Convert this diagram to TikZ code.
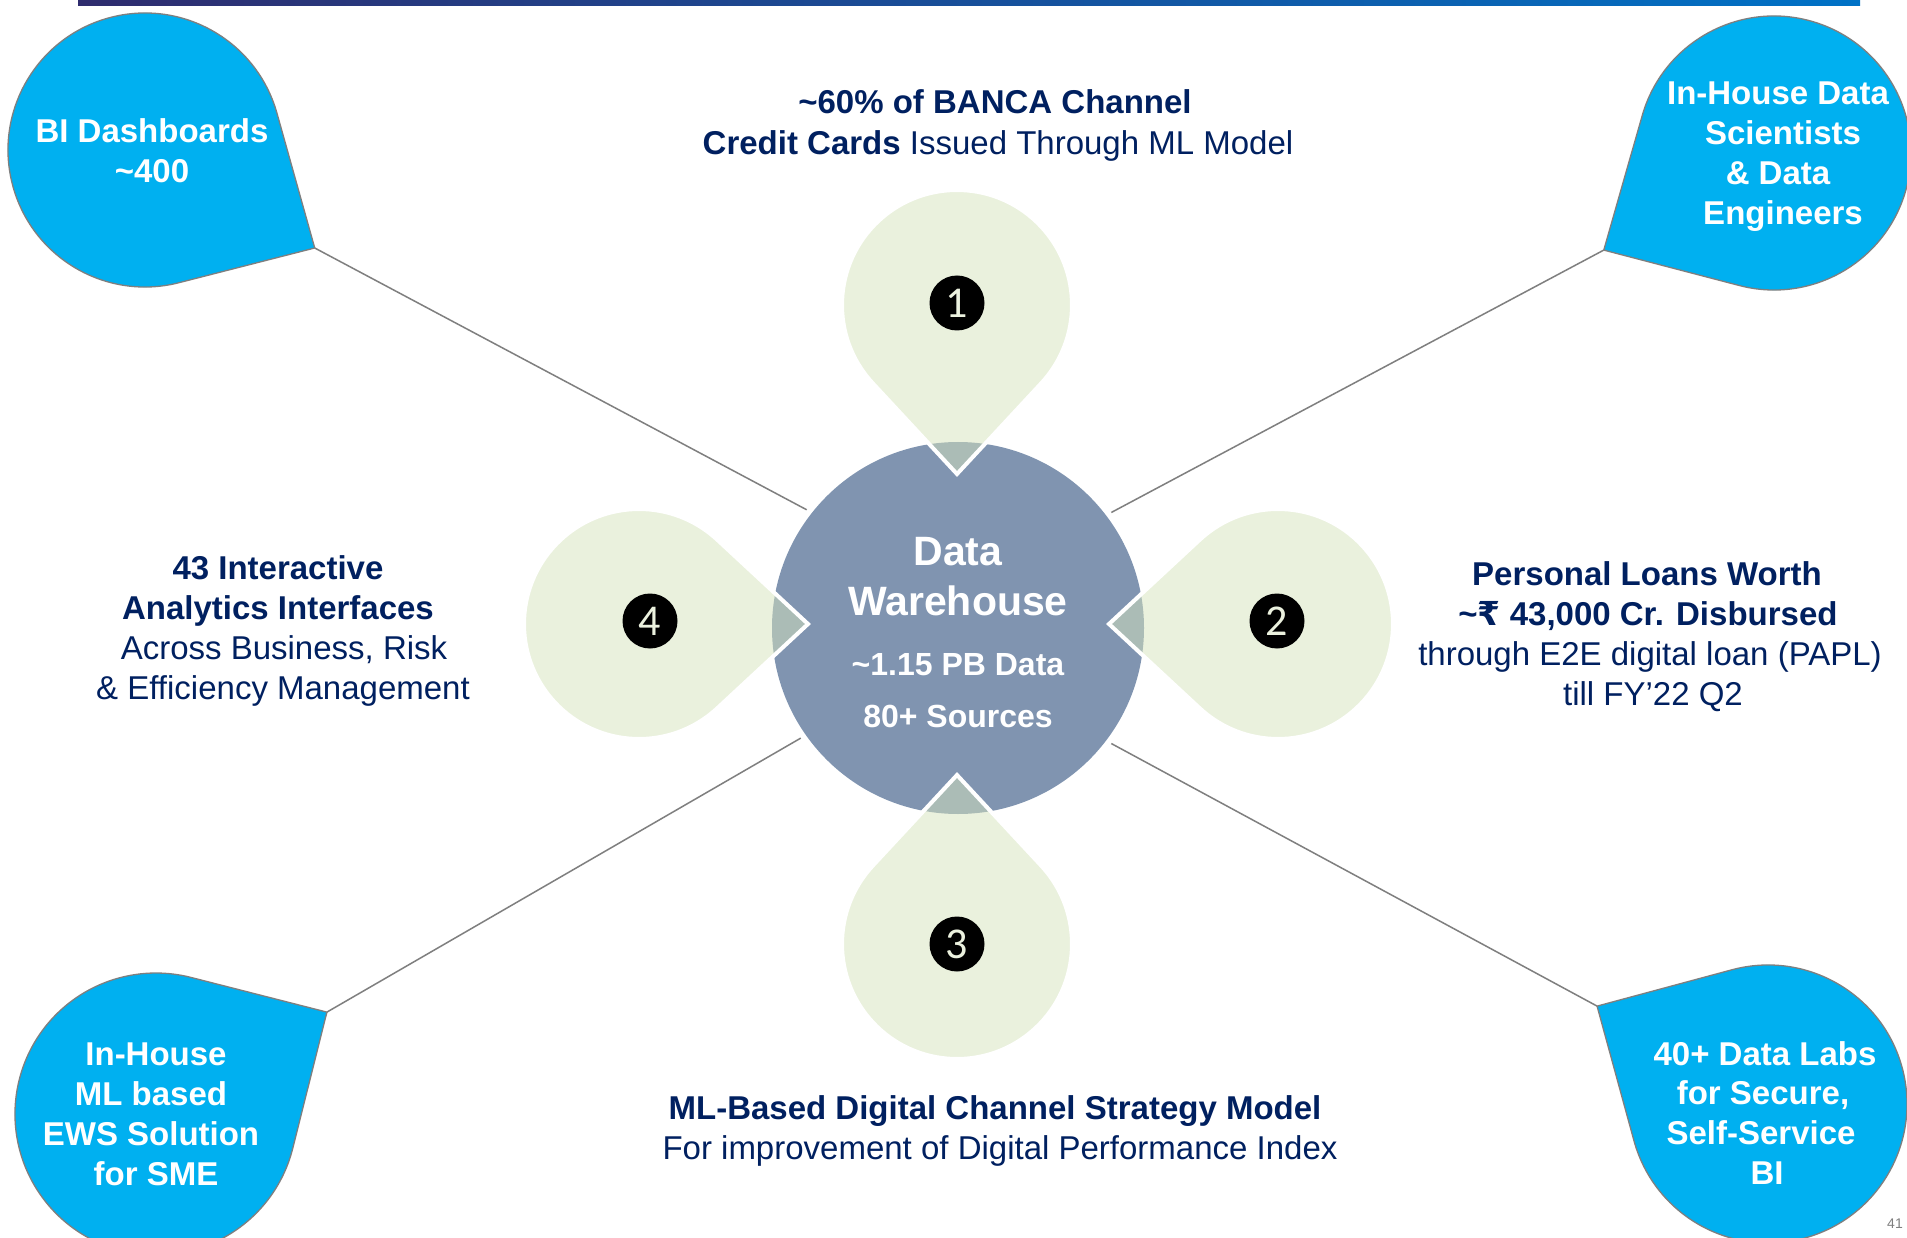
\documentclass[tikz,border=0pt]{standalone}
\usepackage{fontspec}
\setmainfont{Liberation Sans}
\newfontfamily\badgefont{Carlito}
\newfontfamily\rupfont{DejaVu Sans}
\usetikzlibrary{calc}
\definecolor{navy}{HTML}{002060}
\definecolor{dwfill}{HTML}{8094B0}
\definecolor{olivelt}{HTML}{D7E4BD}
\definecolor{cream}{HTML}{EBF1DE}
\definecolor{skyblue}{HTML}{00B0F0}
\definecolor{edgegray}{HTML}{7F7F7F}
\definecolor{barleft}{HTML}{2F2C6E}
\definecolor{barright}{HTML}{0072C6}
% teardrop: #1 name, #2 x, #3 y, #4 radius, #5 axis angle, #6 tip distance, #7 style
\newcommand{\tdrop}[7]{%
  \pgfmathsetmacro{\tdphi}{acos(#4/#6)}%
  \pgfmathsetmacro{\tdst}{#5+\tdphi}%
  \pgfmathsetmacro{\tden}{#5+360-\tdphi}%
  \coordinate (#1) at (#2,#3);%
  \coordinate (#1-tip) at ($(#1)+(#5:#6)$);%
  \path[#7] (#1-tip) -- ($(#1)+(\tdst:#4)$) arc[start angle=\tdst, end angle=\tden, radius=#4] -- cycle;%
}
\begin{document}
\begin{tikzpicture}[x=1pt,y=-1pt,
  bluedrop/.style={fill=skyblue, draw=edgegray, line width=1.3pt},
  paledrop/.style={fill=olivelt, fill opacity=0.5, draw=white, draw opacity=1, line width=4pt, line join=miter},
  conn/.style={draw=edgegray, line width=1.5pt},
  txt/.style={anchor=base, inner sep=0pt, text=navy, font=\fontsize{33}{38}\selectfont},
  btxt/.style={anchor=base, inner sep=0pt, text=navy, font=\fontsize{33}{38}\selectfont\bfseries},
  wtxt/.style={anchor=base, inner sep=0pt, text=white, font=\fontsize{33}{38}\selectfont\bfseries},
  dwbig/.style={anchor=base, inner sep=0pt, text=white, font=\fontsize{41}{46}\selectfont\bfseries},
  dwsmall/.style={anchor=base, inner sep=0pt, text=white, font=\fontsize{32}{36}\selectfont\bfseries},
  badge/.style={circle, fill=black, minimum size=55pt, inner sep=0pt, text=cream, font=\badgefont\fontsize{44}{44}\selectfont}
]
\useasboundingbox (0,0) rectangle (1907,1238);
\clip (0,0) rectangle (1907,1238);
\fill[white] (0,0) rectangle (1907,1238);

% top bar
\shade[left color=barleft, right color=barright] (78,1) rectangle (1860,6);

% central circle
\node[circle, fill=dwfill, minimum size=372pt, inner sep=0pt, outer sep=6pt] (dw) at (958,628) {};

% corner teardrops
\tdrop{tl}{145}{150}{137}{30.0}{196}{bluedrop}
\tdrop{tr}{1774}{153}{137}{150.3}{196}{bluedrop}
\tdrop{bl}{156}{1114}{141}{-30.8}{199}{bluedrop}
\tdrop{br}{1768}{1104}{139}{209.8}{197}{bluedrop}

% connectors
\draw[conn] (tl-tip) -- (dw.142.4);
\draw[conn] (tr-tip) -- (dw.37.8);
\draw[conn] (bl-tip) -- (dw.215.7);
\draw[conn] (br-tip) -- (dw.323);

% pale teardrops
\tdrop{p1}{957}{305}{115}{90}{169}{paledrop}
\tdrop{p2}{1278}{624}{115}{180}{169}{paledrop}
\tdrop{p3}{957}{944}{115}{270}{169}{paledrop}
\tdrop{p4}{639}{624}{115}{0}{169}{paledrop}

% badges
\node[badge] (b1) at (957,303) {1};
\node[badge] (b2) at (1277,621) {2};
\node[badge] (b3) at (957,944) {3};
\node[badge] (b4) at (650,621) {4};

% central text
\node[dwbig] (dw1) at (958,565) {Data};
\node[dwbig] (dw2) at (958,615) {Warehouse};
\node[dwsmall] (dw3) at (958,675) {\textasciitilde 1.15 PB Data};
\node[dwsmall] (dw4) at (958,727) {80+ Sources};

% top text
\node[btxt] (t1a) at (995,114) {\textasciitilde 60\% of BANCA Channel};
\node[txt] (t1b) at (998,155) {\textbf{Credit Cards} Issued Through ML Model};

% right text
\node[btxt] (t2a) at (1647,585) {Personal Loans Worth};
\node[btxt] (t2b) at (1648,625) {\textasciitilde{\rupfont\bfseries ₹} 43,000 Cr. Disbursed};
\node[txt] (t2c) at (1650,665) {through E2E digital loan (PAPL)};
\node[txt] (t2d) at (1653,705) {till FY’22 Q2};

% bottom text
\node[btxt] (t3a) at (995,1119) {ML-Based Digital Channel Strategy Model};
\node[txt] (t3b) at (1000,1159) {For improvement of Digital Performance Index};

% left text
\node[btxt] (t4a) at (278,579) {43 Interactive};
\node[btxt] (t4b) at (278,619) {Analytics Interfaces};
\node[txt] (t4c) at (284,659) {Across Business, Risk};
\node[txt] (t4d) at (283,699) {\& Efficiency Management};

% blue teardrop texts
\node[wtxt] (tla) at (152,143) {BI Dashboards};
\node[wtxt] (tlb) at (152,183) {\textasciitilde 400};

\node[wtxt] (tra) at (1778,105) {In-House Data};
\node[wtxt] (trb) at (1783,145) {Scientists};
\node[wtxt] (trc) at (1778,185) {\& Data};
\node[wtxt] (trd) at (1783,225) {Engineers};

\node[wtxt] (bla) at (156,1065) {In-House};
\node[wtxt] (blb) at (151,1105) {ML based};
\node[wtxt] (blc) at (151,1145) {EWS Solution};
\node[wtxt] (bld) at (156,1185) {for SME};

\node[wtxt] (bra) at (1765,1065) {40+ Data Labs};
\node[wtxt] (brb) at (1763,1104) {for Secure,};
\node[wtxt] (brc) at (1761,1144) {Self-Service};
\node[wtxt] (brd) at (1767,1184) {BI};

% page number
\node[anchor=base east, inner sep=0pt, text=edgegray, font=\fontsize{14}{14}\selectfont] (pg) at (1903,1228) {41};
\end{tikzpicture}
\end{document}
